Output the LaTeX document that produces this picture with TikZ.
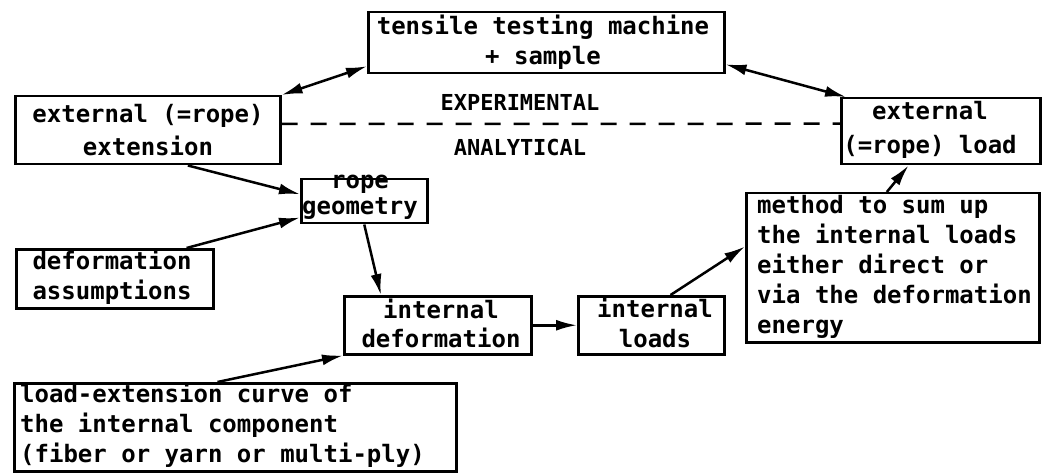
\documentclass[tikz,border=0pt]{standalone}
\usepackage{fontspec}
\setmonofont{DejaVu Sans Mono}
\usetikzlibrary{arrows.meta,calc}

\begin{document}
\begin{tikzpicture}[x=1pt,y=-1pt,
  box/.style={draw, line width=2.5pt, inner sep=0pt, anchor=north west},
  txt/.style={font=\ttfamily\bfseries\fontsize{24}{#1}\selectfont, inner sep=0pt, align=center},
  txt/.default=30,
  lbl/.style={font=\ttfamily\bfseries\fontsize{22}{26}\selectfont, inner sep=0pt},
  link/.style={line width=2.5pt, -{Latex[length=21pt,width=11pt]}},
  twoway/.style={line width=2.5pt, {Latex[length=21pt,width=11pt]}-{Latex[length=21pt,width=11pt]}},
  divider/.style={line width=2.5pt, dash pattern=on 16pt off 13pt},
]
\useasboundingbox (0,0) rectangle (1044,473);

% boxes
\node[box, minimum width=356pt, minimum height=61pt] (tsm)    at (367,11)  {};
\node[box, minimum width=265pt, minimum height=68pt] (ext)    at (14,95)   {};
\node[box, minimum width=199pt, minimum height=66pt] (load)   at (840,97)  {};
\node[box, minimum width=126pt, minimum height=44pt] (rope)   at (300,178) {};
\node[box, minimum width=197pt, minimum height=59pt] (assum)  at (15,248)  {};
\node[box, minimum width=187pt, minimum height=58pt] (idef)   at (343,295) {};
\node[box, minimum width=146pt, minimum height=58pt] (iload)  at (577,295) {};
\node[box, minimum width=293pt, minimum height=149pt] (method) at (745,192) {};
\node[box, minimum width=442pt, minimum height=88pt] (curve)  at (13,382)  {};

% box texts
\node[txt] (tsmt) at (543,42) {tensile testing machine\\+ sample};
\node[txt=33] (extt) at (148,130) {external (=rope)\\extension};
\node[txt=34] (loadt) at (930,130) {external\\(=rope) load};
\node[txt=26] (ropet) at (360,197) {rope\\geometry};
\node[txt] (assumt) at (112,277) {deformation\\assumptions};
\node[txt=29] (ideft) at (441,323) {internal\\deformation};
\node[txt] (iloadt) at (655,323) {internal\\loads};
\node[txt, align=left, anchor=west] (methodt) at (757,267)
  {method to sum up\\the internal loads\\either direct or\\via the deformation\\energy};
\node[txt, align=left, anchor=west] (curvet) at (20,425)
  {load-extension curve of\\the internal component\\(fiber or yarn or multi-ply)};

% experimental / analytical divider
\node[lbl] (expt) at (520,102) {EXPERIMENTAL};
\node[lbl] (anat) at (520,147) {ANALYTICAL};
\draw[divider] ($(ext.north east)!0.41!(ext.south east)$) -- ($(load.north west)!0.39!(load.south west)$);

% connectors
\draw[twoway] (ext.north east) -- ($(tsm.south west)!0.13!(tsm.north west)$);
\draw[twoway] ($(tsm.south east)!0.16!(tsm.north east)$) -- ($(load.north west)!0.03!(load.north east)$);
\draw[link] ($(ext.south west)!0.65!(ext.south east)$) -- ($(rope.north west)!0.35!(rope.south west)$);
\draw[link] ($(assum.north west)!0.86!(assum.north east)$) -- ($(rope.north west)!0.85!(rope.south west)$);
\draw[link] ($(rope.south west)!0.5!(rope.south east)$) -- ($(idef.north west)!0.2!(idef.north east)$);
\draw[link] ($(curve.north west)!0.46!(curve.north east)$) -- (idef.south west);
\draw[link] (idef.east) -- (iload.west);
\draw[link] ($(iload.north west)!0.63!(iload.north east)$) -- ($(method.north west)!0.36!(method.south west)$);
\draw[link] ($(method.north west)!0.48!(method.north east)$) -- ($(load.south west)!0.34!(load.south east)$);
\end{tikzpicture}
\end{document}
